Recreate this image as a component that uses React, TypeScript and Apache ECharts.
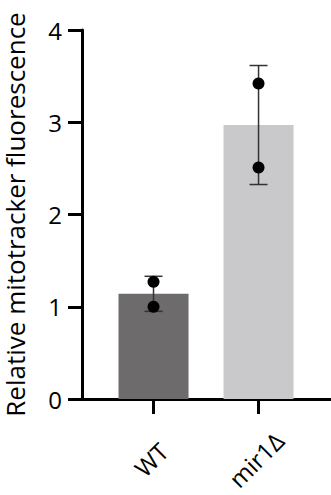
import React, { useEffect, useRef } from "react";
import * as echarts from "echarts";

const categories = ["WT", "mir1Δ"];
const barValues = [1.14, 2.97];
const errorSD = [0.19, 0.645];
const replicatesWT = [1.27, 1.0];
const replicatesMir = [3.42, 2.51];
const barColors = ["#6e6b6c", "#c9c8ca"];
const yMin = 0;
const yMax = 4;
const yInterval = 1;
const yTitle = "Relative mitotracker fluorescence";

const FONT = "'Open Sans', 'DejaVu Sans', sans-serif";

export default function App() {
  const ref = useRef<HTMLDivElement>(null);
  useEffect(() => {
    if (!ref.current) return;
    const chart = echarts.init(ref.current, null, { renderer: "svg" });
    const idx = categories.map((_, i) => i);
    const replicates = [replicatesWT, replicatesMir];
    const option: any = {
      animation: false,
      backgroundColor: "#ffffff",
      grid: { left: 82, right: 0, top: 30, bottom: 96, containLabel: false, outerBoundsMode: "none" },
      xAxis: {
        type: "value",
        min: -0.681,
        max: 1.69,
        splitLine: { show: false },
        axisLine: { show: true, onZero: false, lineStyle: { color: "#000", width: 3 } },
        axisTick: { show: true, customValues: idx, length: 15, lineStyle: { color: "#000", width: 3 } },
        axisLabel: {
          show: true,
          customValues: idx,
          rotate: 45,
          align: "center",
          verticalAlign: "middle",
          margin: 58,
          padding: [0, 7, 7, 0],
          fontSize: 24,
          fontFamily: FONT,
          color: "#000",
          formatter: (v: number) => categories[Math.round(v)] ?? "",
        },
      },
      yAxis: {
        type: "value",
        min: yMin,
        max: yMax,
        interval: yInterval,
        name: yTitle,
        nameLocation: "middle",
        nameGap: 54,
        nameMoveOverlap: false,
        nameTextStyle: { fontSize: 26, fontFamily: FONT, color: "#000" },
        splitLine: { show: false },
        axisLine: { show: true, onZero: false, lineStyle: { color: "#000", width: 3 } },
        axisTick: { show: true, length: 14, lineStyle: { color: "#000", width: 3 } },
        axisLabel: { margin: 20, fontSize: 24, fontFamily: FONT, color: "#000" },
      },
      series: [
        {
          type: "bar",
          barWidth: 70,
          data: barValues.map((v, i) => ({ value: [i, v], itemStyle: { color: barColors[i] } })),
          z: 1,
        },
        {
          type: "custom",
          z: 3,
          data: barValues.map((v, i) => [i, v - errorSD[i], v + errorSD[i]]),
          renderItem: (params: any, api: any) => {
            const x = api.value(0);
            const lo = api.coord([x, api.value(1)]);
            const hi = api.coord([x, api.value(2)]);
            const hw = 9;
            const style = { stroke: "#333", lineWidth: 1.5 };
            return {
              type: "group",
              children: [
                { type: "line", shape: { x1: lo[0], y1: lo[1], x2: hi[0], y2: hi[1] }, style },
                { type: "line", shape: { x1: hi[0] - hw, y1: hi[1], x2: hi[0] + hw, y2: hi[1] }, style },
                { type: "line", shape: { x1: lo[0] - hw, y1: lo[1], x2: lo[0] + hw, y2: lo[1] }, style },
              ],
            };
          },
        },
        {
          type: "scatter",
          z: 4,
          symbol: "circle",
          symbolSize: 12,
          itemStyle: { color: "#000", opacity: 1 },
          data: replicates.flatMap((arr, i) => arr.map((v) => [i, v])),
        },
      ],
    };
    chart.setOption(option);
    return () => chart.dispose();
  }, []);
  return (
    <div
      ref={ref}
      style={{ position: "fixed", left: 0, top: 0, width: 331, height: 495, background: "#fff" }}
    />
  );
}
